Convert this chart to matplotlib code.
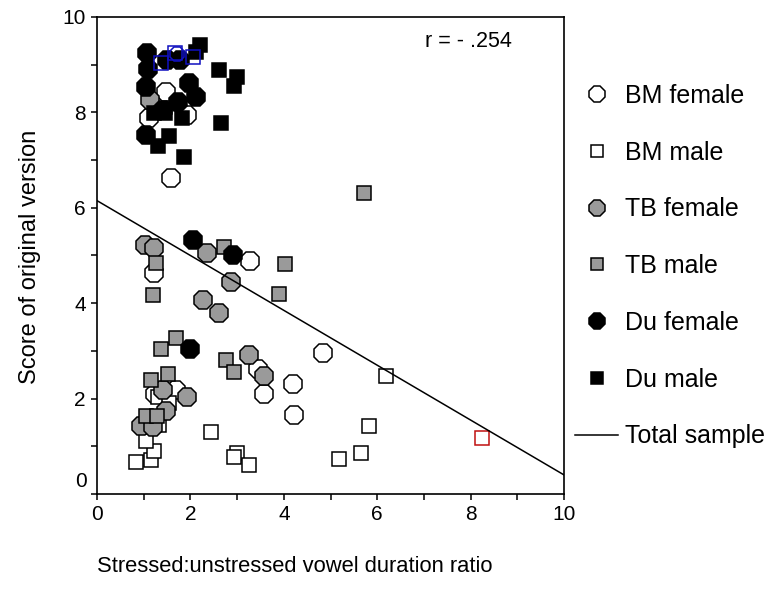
import matplotlib.pyplot as plt
from matplotlib.lines import Line2D

plt.rcParams['font.family'] = ['Liberation Sans', 'DejaVu Sans']

# 各组数据 (时长比, 原版得分)
bm_female_x = [1.48, 1.12, 1.92, 1.58, 3.28, 1.22, 3.45, 3.58, 1.69, 1.24, 4.19, 4.22, 4.83]
bm_female_y = [8.43, 7.88, 7.95, 6.62, 4.88, 4.63, 2.63, 2.10, 2.19, 2.10, 2.31, 1.66, 2.95]

bm_male_x = [2.43, 0.84, 1.15, 1.22, 1.05, 1.33, 2.99, 2.93, 3.26, 1.31, 1.55, 6.19, 5.83, 5.65, 5.19]
bm_male_y = [1.29, 0.68, 0.71, 0.91, 1.12, 1.45, 0.87, 0.78, 0.61, 2.04, 1.90, 2.47, 1.43, 0.87, 0.73]

tb_female_x = [1.13, 1.03, 1.22, 2.36, 2.86, 2.26, 2.62, 3.26, 3.58, 1.93, 1.48, 0.94, 1.19, 1.41]
tb_female_y = [8.25, 5.22, 5.15, 5.06, 4.45, 4.07, 3.79, 2.91, 2.47, 2.03, 1.73, 1.43, 1.40, 2.19]

tb_male_x = [2.72, 1.26, 1.19, 3.90, 4.03, 5.72, 1.36, 1.69, 2.76, 2.93, 1.16, 1.51, 1.05, 1.28]
tb_male_y = [5.18, 4.85, 4.17, 4.19, 4.82, 6.32, 3.05, 3.27, 2.81, 2.56, 2.38, 2.52, 1.64, 1.64]

du_female_x = [1.06, 1.10, 1.05, 1.98, 2.12, 1.74, 1.05, 1.41, 1.78, 1.50, 2.05, 2.91, 1.99]
du_female_y = [9.24, 8.92, 8.53, 8.62, 8.32, 8.22, 7.53, 8.05, 9.10, 9.10, 5.32, 5.01, 3.05]

du_male_x = [2.62, 2.99, 2.93, 2.65, 1.87, 1.55, 1.31, 1.83, 1.21, 1.46, 2.20, 2.12]
du_male_y = [8.89, 8.75, 8.55, 7.77, 7.06, 7.50, 7.30, 7.88, 7.98, 7.98, 9.41, 9.27]

# 被选中标记的点
blue_sq_x = [1.36, 1.66, 2.05]
blue_sq_y = [9.03, 9.24, 9.17]
blue_oct_x = [1.72]
blue_oct_y = [9.22]
red_sq_x = [8.25]
red_sq_y = [1.18]

# 总样本回归线
reg_intercept = 6.15
reg_slope = -0.575
r_text = 'r = - .254'

gray = '#9a9a9a'
oct_size = 14
sq_size = 10.5
ew = 1.1

fig = plt.figure(figsize=(7.7, 5.9), dpi=100)
ax = fig.add_axes([0.126, 0.1627, 0.6065, 0.8085])

groups = [
    (bm_female_x, bm_female_y, '8', 'white', oct_size, 'BM female'),
    (bm_male_x, bm_male_y, 's', 'white', sq_size, 'BM male'),
    (tb_female_x, tb_female_y, '8', gray, oct_size, 'TB female'),
    (tb_male_x, tb_male_y, 's', gray, sq_size, 'TB male'),
    (du_female_x, du_female_y, '8', 'black', oct_size, 'Du female'),
    (du_male_x, du_male_y, 's', 'black', sq_size, 'Du male'),
]
for z, (gx, gy, mk, fc, ms, lab) in enumerate(groups):
    ax.plot(gx, gy, linestyle='none', marker=mk, markersize=ms,
            markerfacecolor=fc, markeredgecolor='black', markeredgewidth=ew, zorder=3 + z)

ax.plot(blue_sq_x, blue_sq_y, linestyle='none', marker='s', markersize=sq_size,
        markerfacecolor='none', markeredgecolor='#1010c0', markeredgewidth=ew, zorder=10)
ax.plot(blue_oct_x, blue_oct_y, linestyle='none', marker='8', markersize=oct_size * 0.8,
        markerfacecolor='none', markeredgecolor='#1010c0', markeredgewidth=ew, zorder=10)
ax.plot(red_sq_x, red_sq_y, linestyle='none', marker='s', markersize=sq_size,
        markerfacecolor='white', markeredgecolor='#c01010', markeredgewidth=ew, zorder=10)

line_x = [0, 10]
line_y = [reg_intercept + reg_slope * v for v in line_x]
ax.plot(line_x, line_y, color='black', linewidth=1.1, zorder=12)

ax.set_xlim(0, 10)
ax.set_ylim(0, 10)
ax.set_xticks(range(0, 11, 2))
ax.set_xticks(range(1, 11, 2), minor=True)
ax.set_yticks(range(0, 11, 2))
ax.set_yticks(range(1, 11, 2), minor=True)
ax.set_yticklabels([''] + [str(v) for v in range(2, 11, 2)])
ax.tick_params(which='both', direction='out', length=4.5, width=1.1, labelsize=15)
for sp in ax.spines.values():
    sp.set_linewidth(1.2)

# y 轴的 0 标签往上挪一点
ax.annotate('0', xy=(0, 0), xycoords=('axes fraction', 'data'), xytext=(-7, 9),
            textcoords='offset points', ha='right', va='center', fontsize=15)

ax.text(0.702, 0.948, r_text, transform=ax.transAxes, fontsize=15.5, ha='left', va='center')

fig.text(97 / 770, 1 - 567 / 590, 'Stressed:unstressed vowel duration ratio',
         fontsize=15.8, ha='left', va='center')
fig.text(30 / 770, 1 - 257 / 590, 'Score of original version',
         fontsize=17, rotation=90, ha='center', va='center')

handles = []
for gx, gy, mk, fc, ms, lab in groups:
    handles.append(Line2D([], [], linestyle='none', marker=mk, markersize=ms * 0.85,
                          markerfacecolor=fc, markeredgecolor='black',
                          markeredgewidth=ew, label=lab))
handles.append(Line2D([], [], color='black', linewidth=1.1, label='Total sample'))
fig.legend(handles=handles, loc='upper left', bbox_to_anchor=(0.7468, 0.858),
           frameon=False, fontsize=18, handlelength=1.72, handletextpad=0.28,
           labelspacing=1.31, borderpad=0, borderaxespad=0)

fig.savefig('out.png', dpi=100)
